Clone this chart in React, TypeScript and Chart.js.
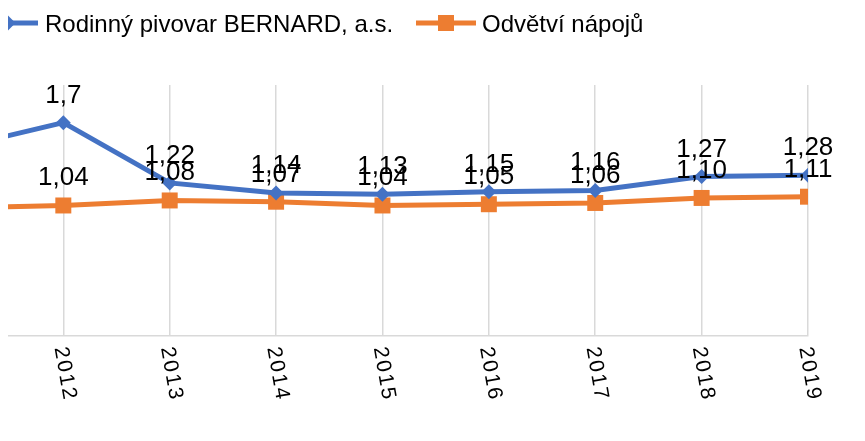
import { useEffect, useRef } from "react";
import { Chart, registerables } from "chart.js";

Chart.register(...registerables);

// ---- data ----
const years = [2011, 2012, 2013, 2014, 2015, 2016, 2017, 2018, 2019];
const tickYears = [2012, 2013, 2014, 2015, 2016, 2017, 2018, 2019];
const bernard = [1.5, 1.7, 1.22, 1.14, 1.13, 1.15, 1.16, 1.27, 1.28];
const odvetvi = [1.02, 1.04, 1.08, 1.07, 1.04, 1.05, 1.06, 1.1, 1.11];
const seriesNames = ["Rodinný pivovar BERNARD, a.s.", "Odvětví nápojů"];

const BLUE = "#4472C4";
const ORANGE = "#ED7D31";
const GRID = "#d9d9d9";
const FONT = '"Liberation Sans", Arial, sans-serif';

const fmtB = (v: number) => String(v).replace(".", ",");
const fmtO = (v: number) => v.toFixed(2).replace(".", ",");

export default function App() {
  const ref = useRef<HTMLCanvasElement>(null);

  useEffect(() => {
    const custom = {
      id: "customDraw",
      afterDatasetsDraw(chart: any) {
        const ctx = chart.ctx as CanvasRenderingContext2D;
        const xs = chart.scales.x;
        const ys = chart.scales.y;
        const area = chart.chartArea;
        ctx.save();

        // data labels
        ctx.font = `26px ${FONT}`;
        ctx.fillStyle = "#000";
        ctx.textAlign = "center";
        ctx.textBaseline = "alphabetic";
        years.forEach((yr, i) => {
          const x = xs.getPixelForValue(yr);
          ctx.fillText(fmtO(odvetvi[i]), x, ys.getPixelForValue(odvetvi[i]) - 20);
          ctx.fillText(fmtB(bernard[i]), x, ys.getPixelForValue(bernard[i]) - 20);
        });

        // x tick labels (rotated clockwise)
        ctx.font = `21px ${FONT}`;
        (ctx as any).letterSpacing = "2px";
        ctx.textAlign = "center";
        ctx.textBaseline = "middle";
        tickYears.forEach((yr) => {
          const x = xs.getPixelForValue(yr) + 1.7;
          const y = area.bottom + 38;
          ctx.save();
          ctx.translate(x, y);
          ctx.rotate((80 * Math.PI) / 180);
          ctx.fillText(String(yr), 0, 0);
          ctx.restore();
        });
        (ctx as any).letterSpacing = "0px";

        // legend
        const ly = 15;
        ctx.lineWidth = 5;
        ctx.strokeStyle = BLUE;
        ctx.beginPath();
        ctx.moveTo(-30, ly);
        ctx.lineTo(30, ly);
        ctx.stroke();
        ctx.fillStyle = BLUE;
        ctx.beginPath();
        ctx.moveTo(0, ly - 7.5);
        ctx.lineTo(7.5, ly);
        ctx.lineTo(0, ly + 7.5);
        ctx.lineTo(-7.5, ly);
        ctx.closePath();
        ctx.fill();

        ctx.strokeStyle = ORANGE;
        ctx.beginPath();
        ctx.moveTo(408, ly);
        ctx.lineTo(468, ly);
        ctx.stroke();
        ctx.fillStyle = ORANGE;
        ctx.fillRect(438 - 8, ly - 8, 16, 16);

        ctx.fillStyle = "#000";
        ctx.font = `24px ${FONT}`;
        ctx.textAlign = "left";
        ctx.textBaseline = "alphabetic";
        ctx.fillText(seriesNames[0], 37, 24);
        ctx.fillText(seriesNames[1], 474, 24);

        ctx.restore();
      },
    };

    const chart = new Chart(ref.current as HTMLCanvasElement, {
      type: "line",
      data: {
        datasets: [
          {
            label: seriesNames[0],
            data: years.map((y, i) => ({ x: y, y: bernard[i] })),
            borderColor: BLUE,
            backgroundColor: BLUE,
            borderWidth: 5,
            pointStyle: "rectRot",
            pointRadius: 7.5,
            pointBorderWidth: 0,
            tension: 0,
          },
          {
            label: seriesNames[1],
            data: years.map((y, i) => ({ x: y, y: odvetvi[i] })),
            borderColor: ORANGE,
            backgroundColor: ORANGE,
            borderWidth: 5,
            pointStyle: "rect",
            pointRadius: 11.3,
            pointBorderWidth: 0,
            tension: 0,
          },
        ],
      },
      options: {
        responsive: false,
        animation: false,
        layout: { autoPadding: false, padding: { top: 77, bottom: 97, left: 0, right: 49 } },
        plugins: { legend: { display: false }, tooltip: { enabled: false } },
        scales: {
          x: {
            type: "linear",
            min: 2011.48,
            max: 2019,
            afterBuildTicks: (s: any) => {
              s.ticks = tickYears.map((v) => ({ value: v }));
            },
            ticks: { display: false },
            grid: { color: GRID, lineWidth: 1.5, drawTicks: false },
            border: { color: GRID, width: 1.5 },
          },
          y: { display: false, min: 0, max: 2 },
        },
      },
      plugins: [custom],
    });
    return () => chart.destroy();
  }, []);

  return <canvas ref={ref} width={849} height={425} style={{ display: "block" }} />;
}
